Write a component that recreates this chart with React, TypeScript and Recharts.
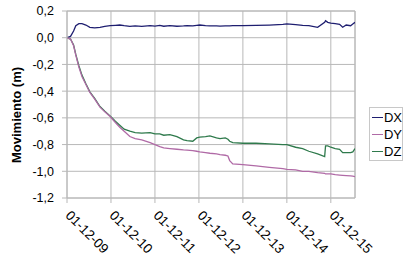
import React from 'react';
import { LineChart, Line, XAxis, YAxis, CartesianGrid, ReferenceLine, Label } from 'recharts';

const times = [0, 0.08, 0.15, 0.2, 0.27, 0.34, 0.43, 0.52, 0.63, 0.75, 0.86, 0.98, 1.1, 1.2, 1.3, 1.43, 1.55, 1.7, 1.89, 2.0, 2.11, 2.2, 2.34, 2.5, 2.65, 2.73, 2.86, 2.95, 3.02, 3.15, 3.25, 3.4, 3.48, 3.6, 3.66, 3.7, 3.77, 4.0, 4.3, 4.6, 4.91, 5.0, 5.2, 5.36, 5.5, 5.7, 5.86, 5.88, 5.93, 6.0, 6.1, 6.2, 6.27, 6.35, 6.45, 6.5, 6.55];
const dx = [0, 0.01, 0.05, 0.09, 0.105, 0.105, 0.095, 0.078, 0.073, 0.078, 0.085, 0.09, 0.093, 0.095, 0.09, 0.085, 0.088, 0.085, 0.09, 0.087, 0.092, 0.086, 0.09, 0.086, 0.088, 0.09, 0.088, 0.092, 0.095, 0.09, 0.088, 0.088, 0.087, 0.088, 0.088, 0.089, 0.09, 0.09, 0.092, 0.095, 0.1, 0.103, 0.098, 0.092, 0.09, 0.078, 0.115, 0.127, 0.115, 0.11, 0.105, 0.1, 0.078, 0.095, 0.09, 0.103, 0.115];
const dy = [0, -0.01, -0.06, -0.13, -0.22, -0.29, -0.35, -0.41, -0.46, -0.52, -0.555, -0.59, -0.635, -0.67, -0.7, -0.74, -0.755, -0.765, -0.785, -0.8, -0.815, -0.825, -0.83, -0.835, -0.84, -0.842, -0.845, -0.85, -0.855, -0.86, -0.865, -0.87, -0.875, -0.88, -0.885, -0.92, -0.945, -0.95, -0.96, -0.97, -0.98, -0.985, -0.99, -1.0, -1.0, -1.01, -1.015, -1.02, -1.02, -1.02, -1.025, -1.028, -1.03, -1.032, -1.035, -1.037, -1.04];
const dz = [0, -0.01, -0.055, -0.125, -0.21, -0.28, -0.345, -0.405, -0.455, -0.515, -0.55, -0.585, -0.625, -0.655, -0.685, -0.7, -0.71, -0.715, -0.71, -0.72, -0.72, -0.73, -0.725, -0.74, -0.765, -0.77, -0.775, -0.75, -0.745, -0.74, -0.735, -0.75, -0.755, -0.75, -0.76, -0.775, -0.785, -0.79, -0.79, -0.795, -0.8, -0.8, -0.82, -0.83, -0.85, -0.87, -0.89, -0.81, -0.81, -0.82, -0.83, -0.835, -0.86, -0.86, -0.86, -0.855, -0.83];
const xTickLabels = ['01-12-09', '01-12-10', '01-12-11', '01-12-12', '01-12-13', '01-12-14', '01-12-15'];
const yTicks = [0.2, 0, -0.2, -0.4, -0.6, -0.8, -1.0, -1.2];
const seriesNames = ['DX', 'DY', 'DZ'];
const seriesColors = ['#1e1e70', '#b06aa6', '#2f7a4c'];

const data = times.map((t, i) => ({ t, DX: dx[i], DY: dy[i], DZ: dz[i] }));

const FONT = 'Arial, "Liberation Sans", sans-serif';
const GRID = '#b8b8b8';

const XTick = (props: any) => {
  const { x, y, payload } = props;
  const ax = x + 1;
  const ay = y + 8;
  return (
    <text x={ax} y={ay} transform={`rotate(45, ${ax}, ${ay})`} textAnchor="start" dominantBaseline="central"
      fontFamily={FONT} fontSize={13.5} fill="#000">
      {xTickLabels[payload.value]}
    </text>
  );
};

const LegendBox = () => (
  <div style={{ position: 'absolute', left: 369, top: 107, border: '1px solid #c8c8c8', width: 34, height: 54, fontFamily: FONT, fontSize: 13, color: '#000', boxSizing: 'border-box', paddingTop: 1 }}>
    {seriesNames.map((n, i) => (
      <div key={n} style={{ display: 'flex', alignItems: 'center', height: 17 }}>
        <div style={{ width: 11, height: 1.3, background: seriesColors[i], marginLeft: 2, marginRight: 1 }} />
        <span>{n}</span>
      </div>
    ))}
  </div>
);

export default function App() {
  return (
    <div style={{ position: 'absolute', left: 0, top: 0, width: 408, height: 267, background: '#fff' }}>
      <LineChart width={408} height={267} data={data} margin={{ top: 11, right: 53, bottom: 0, left: 0 }}>
        <CartesianGrid stroke={GRID} strokeWidth={1} />
        <XAxis dataKey="t" type="number" domain={[0, 6.55]} ticks={[0, 1, 2, 3, 4, 5, 6]} height={69}
          stroke={GRID} tickSize={5} tick={<XTick />} interval={0} allowDataOverflow />
        <YAxis type="number" domain={[-1.2, 0.2]} ticks={yTicks} width={67} stroke={GRID} tickSize={5} tickMargin={8}
          tick={{ fontFamily: FONT, fontSize: 12.5, fill: '#000' }} interval={0}
          tickFormatter={(v: number) => v.toFixed(1).replace('.', ',')}>
          <Label content={() => (
            <text x={21} y={115} transform="rotate(-90, 21, 115)" textAnchor="middle" fontFamily={FONT} fontSize={13} fontWeight="bold" fill="#000">
              Movimiento (m)
            </text>
          )} />
        </YAxis>
        <ReferenceLine x={6.55} stroke={GRID} strokeWidth={1} />
        <ReferenceLine y={0.2} stroke={GRID} strokeWidth={1} />
        <Line type="linear" dataKey="DX" stroke={seriesColors[0]} strokeWidth={1.3} dot={false} isAnimationActive={false} />
        <Line type="linear" dataKey="DZ" stroke={seriesColors[2]} strokeWidth={1.3} dot={false} isAnimationActive={false} />
        <Line type="linear" dataKey="DY" stroke={seriesColors[1]} strokeWidth={1.3} dot={false} isAnimationActive={false} />
      </LineChart>
      <LegendBox />
    </div>
  );
}
